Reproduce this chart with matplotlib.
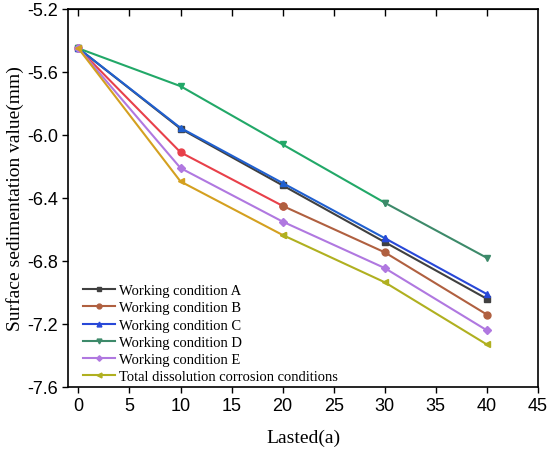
import matplotlib.pyplot as plt

years = [0, 10, 20, 30, 40]
cond_a = [-5.45, -5.96, -6.32, -6.68, -7.04]
cond_b = [-5.45, -6.11, -6.45, -6.745, -7.14]
cond_c = [-5.45, -5.955, -6.305, -6.655, -7.01]
cond_d = [-5.45, -5.69, -6.06, -6.43, -6.78]
cond_e = [-5.45, -6.21, -6.55, -6.845, -7.24]
total = [-5.45, -6.295, -6.635, -6.935, -7.33]

labels = ['Working condition A', 'Working condition B', 'Working condition C',
          'Working condition D', 'Working condition E',
          'Total dissolution corrosion conditions']

plt.rcParams['axes.unicode_minus'] = False

fig = plt.figure(figsize=(5.5, 4.52), dpi=100)
ax = fig.add_axes([0.124, 0.1416, 0.854, 0.8363])

# (series, marker, early colour, late colour, index where colour changes)
series = [
    (cond_a, 's', '#404040', '#404040', 0),
    (cond_b, 'o', '#e8404a', '#b06040', 2),
    (cond_c, '^', '#2060d0', '#2848d8', 3),
    (cond_d, 'v', '#22a868', '#3d8a6a', 3),
    (cond_e, 'D', '#b078e0', '#b078e0', 0),
    (total, '<', '#d4a020', '#b0b020', 2),
]

for (vals, mk, c1, c2, k), lab in zip(series, labels):
    ms = 4 if mk == 'D' else 5
    if k > 0:
        ax.plot(years[:k + 1], vals[:k + 1], color=c1, marker=mk, ms=ms, lw=1.5)
    ax.plot(years[k:], vals[k:], color=c2, marker=mk, ms=ms, lw=1.5, label=lab)

ax.set_xlim(-1, 45)
ax.set_ylim(-7.6, -5.2)
ax.set_xticks(range(0, 46, 5))
ax.set_yticks([-5.2, -5.6, -6.0, -6.4, -6.8, -7.2, -7.6])
ax.tick_params(axis='both', direction='out', length=4, width=1,
               labelsize=13, labelfontfamily='Liberation Sans')
top = ax.secondary_xaxis('top')
top.set_xticks(range(0, 41, 5))
top.tick_params(direction='in', length=5, width=1, labeltop=False)
for s in ax.spines.values():
    s.set_linewidth(1.2)

ax.set_xlabel('Lasted(a)', family='Liberation Serif', fontsize=14, labelpad=10)
ax.set_ylabel('Surface sedimentation value(mm)', family='Liberation Serif',
              fontsize=14, labelpad=2)

ax.legend(loc='lower left', bbox_to_anchor=(0.019, -0.005), frameon=False,
          prop={'family': 'Liberation Serif', 'size': 10.5},
          handlelength=2.2, handletextpad=0.3, labelspacing=0.27,
          borderaxespad=0, markerscale=0.7)

fig.savefig('out.png', dpi=100)
